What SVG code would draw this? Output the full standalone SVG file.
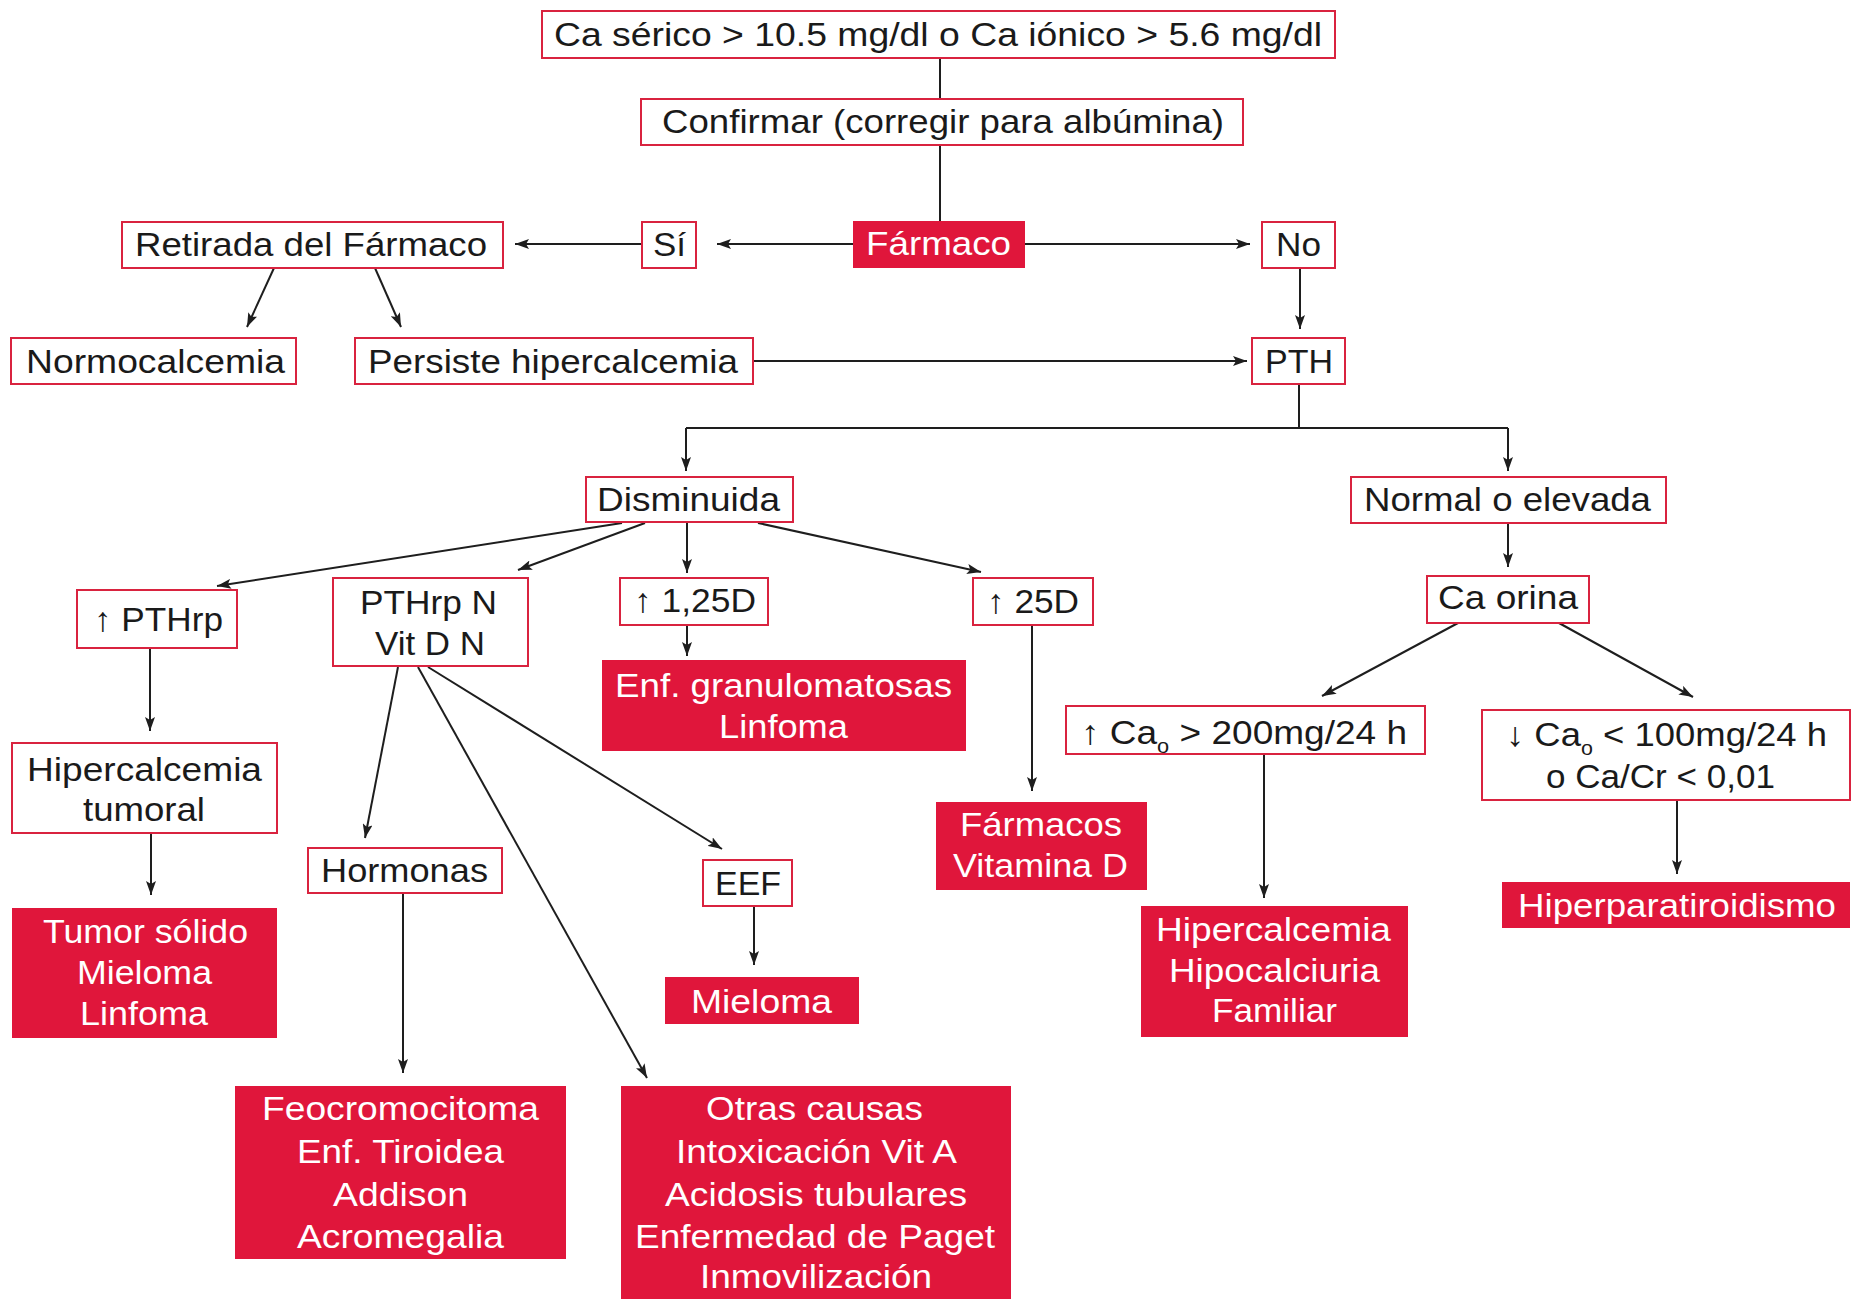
<svg xmlns="http://www.w3.org/2000/svg" width="1853" height="1299" viewBox="0 0 1853 1299">
  <style>
    .box { fill: #ffffff; stroke: #d9233f; stroke-width: 2; }
    .red { fill: #e0163b; }
    .t { font-family: "Liberation Sans", Arial, "DejaVu Sans", sans-serif; font-size: 34px; fill: #1a1a1a; }
    .w { fill: #ffffff; }
    .sub { font-size: 20px; }
    .edge { stroke: #1e1e1e; stroke-width: 2; fill: none; }
    .arr { marker-end: url(#head); }
  </style>
  <defs>
    <marker id="head" markerUnits="userSpaceOnUse" markerWidth="14" markerHeight="10" refX="14" refY="5" orient="auto">
      <path d="M0,0 L14,5 L0,10 L3,5 z" fill="#1e1e1e"/>
    </marker>
  </defs>
  <rect width="1853" height="1299" fill="#ffffff"/>

  <!-- connectors -->
  <g id="connectors">
    <line class="edge" x1="940" y1="58" x2="940" y2="99"/>
    <line class="edge" x1="940" y1="145" x2="940" y2="221"/>
    <line class="edge arr" x1="853" y1="244" x2="717" y2="244"/>
    <line class="edge arr" x1="642" y1="244" x2="515" y2="244"/>
    <line class="edge arr" x1="1025" y1="244" x2="1250" y2="244"/>
    <line class="edge arr" x1="1300" y1="268" x2="1300" y2="329"/>
    <line class="edge arr" x1="274" y1="268" x2="247" y2="327"/>
    <line class="edge arr" x1="375" y1="268" x2="401" y2="327"/>
    <line class="edge arr" x1="753" y1="361" x2="1247" y2="361"/>
    <polyline class="edge" points="1299,384 1299,428"/>
    <line class="edge" x1="686" y1="428" x2="1508" y2="428"/>
    <line class="edge arr" x1="686" y1="428" x2="686" y2="471"/>
    <line class="edge arr" x1="1508" y1="428" x2="1508" y2="471"/>
    <line class="edge arr" x1="1508" y1="523" x2="1508" y2="567"/>
    <line class="edge arr" x1="622" y1="523" x2="217" y2="586"/>
    <line class="edge arr" x1="645" y1="523" x2="518" y2="570"/>
    <line class="edge arr" x1="687" y1="522" x2="687" y2="573"/>
    <line class="edge arr" x1="758" y1="523" x2="981" y2="572"/>
    <line class="edge arr" x1="687" y1="625" x2="687" y2="656"/>
    <line class="edge arr" x1="1032" y1="626" x2="1032" y2="791"/>
    <line class="edge arr" x1="150" y1="648" x2="150" y2="731"/>
    <line class="edge arr" x1="151" y1="833" x2="151" y2="895"/>
    <line class="edge arr" x1="398" y1="667" x2="365" y2="838"/>
    <line class="edge arr" x1="418" y1="667" x2="647" y2="1078"/>
    <line class="edge arr" x1="428" y1="667" x2="722" y2="849"/>
    <line class="edge arr" x1="403" y1="893" x2="403" y2="1073"/>
    <line class="edge arr" x1="754" y1="906" x2="754" y2="965"/>
    <line class="edge arr" x1="1458" y1="623" x2="1322" y2="696"/>
    <line class="edge arr" x1="1559" y1="623" x2="1693" y2="697"/>
    <line class="edge arr" x1="1264" y1="754" x2="1264" y2="898"/>
    <line class="edge arr" x1="1677" y1="800" x2="1677" y2="874"/>
  </g>

  <!-- outlined nodes -->
  <g id="n-calcio">
    <rect class="box" x="542" y="11" width="793" height="47"/>
    <text class="t" x="554" y="46" textLength="768" lengthAdjust="spacingAndGlyphs">Ca sérico &gt; 10.5 mg/dl o Ca iónico &gt; 5.6 mg/dl</text>
  </g>
  <g id="n-confirmar">
    <rect class="box" x="641" y="99" width="602" height="46"/>
    <text class="t" x="662" y="133" textLength="562" lengthAdjust="spacingAndGlyphs">Confirmar (corregir para albúmina)</text>
  </g>
  <g id="n-farmaco">
    <rect class="red" x="853" y="221" width="172" height="47"/>
    <text class="t w" x="866" y="255" textLength="145" lengthAdjust="spacingAndGlyphs">Fármaco</text>
  </g>
  <g id="n-si">
    <rect class="box" x="642" y="222" width="54" height="46"/>
    <text class="t" x="653" y="256" textLength="33" lengthAdjust="spacingAndGlyphs">Sí</text>
  </g>
  <g id="n-retirada">
    <rect class="box" x="122" y="222" width="381" height="46"/>
    <text class="t" x="135" y="256" textLength="352" lengthAdjust="spacingAndGlyphs">Retirada del Fármaco</text>
  </g>
  <g id="n-no">
    <rect class="box" x="1262" y="222" width="73" height="46"/>
    <text class="t" x="1276" y="256" textLength="45" lengthAdjust="spacingAndGlyphs">No</text>
  </g>
  <g id="n-normocalcemia">
    <rect class="box" x="11" y="338" width="285" height="46"/>
    <text class="t" x="26" y="373" textLength="259" lengthAdjust="spacingAndGlyphs">Normocalcemia</text>
  </g>
  <g id="n-persiste">
    <rect class="box" x="355" y="338" width="398" height="46"/>
    <text class="t" x="368" y="373" textLength="370" lengthAdjust="spacingAndGlyphs">Persiste hipercalcemia</text>
  </g>
  <g id="n-pth">
    <rect class="box" x="1252" y="338" width="93" height="46"/>
    <text class="t" x="1265" y="373" textLength="68" lengthAdjust="spacingAndGlyphs">PTH</text>
  </g>
  <g id="n-disminuida">
    <rect class="box" x="586" y="477" width="207" height="45"/>
    <text class="t" x="597" y="511" textLength="183" lengthAdjust="spacingAndGlyphs">Disminuida</text>
  </g>
  <g id="n-normal">
    <rect class="box" x="1351" y="477" width="315" height="46"/>
    <text class="t" x="1364" y="511" textLength="287" lengthAdjust="spacingAndGlyphs">Normal o elevada</text>
  </g>
  <g id="n-pthrp-alto">
    <rect class="box" x="77" y="590" width="160" height="58"/>
    <text class="t" x="94" y="631" textLength="129" lengthAdjust="spacingAndGlyphs">↑ PTHrp</text>
  </g>
  <g id="n-pthrp-n">
    <rect class="box" x="333" y="578" width="195" height="88"/>
    <text class="t" x="360" y="614" textLength="137" lengthAdjust="spacingAndGlyphs">PTHrp N</text>
    <text class="t" x="375" y="655" textLength="110" lengthAdjust="spacingAndGlyphs">Vit D N</text>
  </g>
  <g id="n-125d">
    <rect class="box" x="620" y="578" width="148" height="47"/>
    <text class="t" x="634" y="612" textLength="122" lengthAdjust="spacingAndGlyphs">↑ 1,25D</text>
  </g>
  <g id="n-25d">
    <rect class="box" x="973" y="578" width="120" height="47"/>
    <text class="t" x="987" y="613" textLength="92" lengthAdjust="spacingAndGlyphs">↑ 25D</text>
  </g>
  <g id="n-ca-orina">
    <rect class="box" x="1427" y="576" width="162" height="47"/>
    <text class="t" x="1438" y="609" textLength="140" lengthAdjust="spacingAndGlyphs">Ca orina</text>
  </g>
  <g id="n-hiper-tumoral">
    <rect class="box" x="12" y="743" width="265" height="90"/>
    <text class="t" x="27" y="781" textLength="235" lengthAdjust="spacingAndGlyphs">Hipercalcemia</text>
    <text class="t" x="83" y="821" textLength="122" lengthAdjust="spacingAndGlyphs">tumoral</text>
  </g>
  <g id="n-cao-alto">
    <rect class="box" x="1066" y="706" width="359" height="48"/>
    <text class="t" x="1081" y="744" textLength="326" lengthAdjust="spacingAndGlyphs">↑ Ca<tspan class="sub" dy="9">o</tspan><tspan dy="-9"> &gt; 200mg/24 h</tspan></text>
  </g>
  <g id="n-cao-bajo">
    <rect class="box" x="1482" y="710" width="368" height="90"/>
    <text class="t" x="1506" y="746" textLength="321" lengthAdjust="spacingAndGlyphs">↓ Ca<tspan class="sub" dy="9">o</tspan><tspan dy="-9"> &lt; 100mg/24 h</tspan></text>
    <text class="t" x="1546" y="788" textLength="229" lengthAdjust="spacingAndGlyphs">o Ca/Cr &lt; 0,01</text>
  </g>
  <g id="n-hormonas">
    <rect class="box" x="308" y="848" width="194" height="45"/>
    <text class="t" x="321" y="882" textLength="167" lengthAdjust="spacingAndGlyphs">Hormonas</text>
  </g>
  <g id="n-eef">
    <rect class="box" x="703" y="860" width="89" height="46"/>
    <text class="t" x="715" y="895" textLength="66" lengthAdjust="spacingAndGlyphs">EEF</text>
  </g>

  <!-- filled result nodes -->
  <g id="n-granulomatosas">
    <rect class="red" x="602" y="660" width="364" height="91"/>
    <text class="t w" x="615" y="697" textLength="337" lengthAdjust="spacingAndGlyphs">Enf. granulomatosas</text>
    <text class="t w" x="719" y="738" textLength="129" lengthAdjust="spacingAndGlyphs">Linfoma</text>
  </g>
  <g id="n-tumor">
    <rect class="red" x="12" y="908" width="265" height="130"/>
    <text class="t w" x="43" y="943" textLength="205" lengthAdjust="spacingAndGlyphs">Tumor sólido</text>
    <text class="t w" x="77" y="984" textLength="135" lengthAdjust="spacingAndGlyphs">Mieloma</text>
    <text class="t w" x="80" y="1025" textLength="128" lengthAdjust="spacingAndGlyphs">Linfoma</text>
  </g>
  <g id="n-vitamina-d">
    <rect class="red" x="936" y="802" width="211" height="88"/>
    <text class="t w" x="960" y="836" textLength="162" lengthAdjust="spacingAndGlyphs">Fármacos</text>
    <text class="t w" x="953" y="877" textLength="175" lengthAdjust="spacingAndGlyphs">Vitamina D</text>
  </g>
  <g id="n-mieloma">
    <rect class="red" x="665" y="977" width="194" height="47"/>
    <text class="t w" x="691" y="1013" textLength="141" lengthAdjust="spacingAndGlyphs">Mieloma</text>
  </g>
  <g id="n-hhf">
    <rect class="red" x="1141" y="906" width="267" height="131"/>
    <text class="t w" x="1156" y="941" textLength="235" lengthAdjust="spacingAndGlyphs">Hipercalcemia</text>
    <text class="t w" x="1169" y="982" textLength="211" lengthAdjust="spacingAndGlyphs">Hipocalciuria</text>
    <text class="t w" x="1212" y="1022" textLength="125" lengthAdjust="spacingAndGlyphs">Familiar</text>
  </g>
  <g id="n-hiperparatiroidismo">
    <rect class="red" x="1502" y="882" width="348" height="46"/>
    <text class="t w" x="1518" y="917" textLength="318" lengthAdjust="spacingAndGlyphs">Hiperparatiroidismo</text>
  </g>
  <g id="n-hormonales">
    <rect class="red" x="235" y="1086" width="331" height="173"/>
    <text class="t w" x="262" y="1120" textLength="277" lengthAdjust="spacingAndGlyphs">Feocromocitoma</text>
    <text class="t w" x="297" y="1163" textLength="207" lengthAdjust="spacingAndGlyphs">Enf. Tiroidea</text>
    <text class="t w" x="333" y="1206" textLength="135" lengthAdjust="spacingAndGlyphs">Addison</text>
    <text class="t w" x="297" y="1248" textLength="207" lengthAdjust="spacingAndGlyphs">Acromegalia</text>
  </g>
  <g id="n-otras">
    <rect class="red" x="621" y="1086" width="390" height="220"/>
    <text class="t w" x="706" y="1120" textLength="217" lengthAdjust="spacingAndGlyphs">Otras causas</text>
    <text class="t w" x="676" y="1163" textLength="281" lengthAdjust="spacingAndGlyphs">Intoxicación Vit A</text>
    <text class="t w" x="665" y="1206" textLength="302" lengthAdjust="spacingAndGlyphs">Acidosis tubulares</text>
    <text class="t w" x="635" y="1248" textLength="360" lengthAdjust="spacingAndGlyphs">Enfermedad de Paget</text>
    <text class="t w" x="700" y="1288" textLength="232" lengthAdjust="spacingAndGlyphs">Inmovilización</text>
  </g>
</svg>
